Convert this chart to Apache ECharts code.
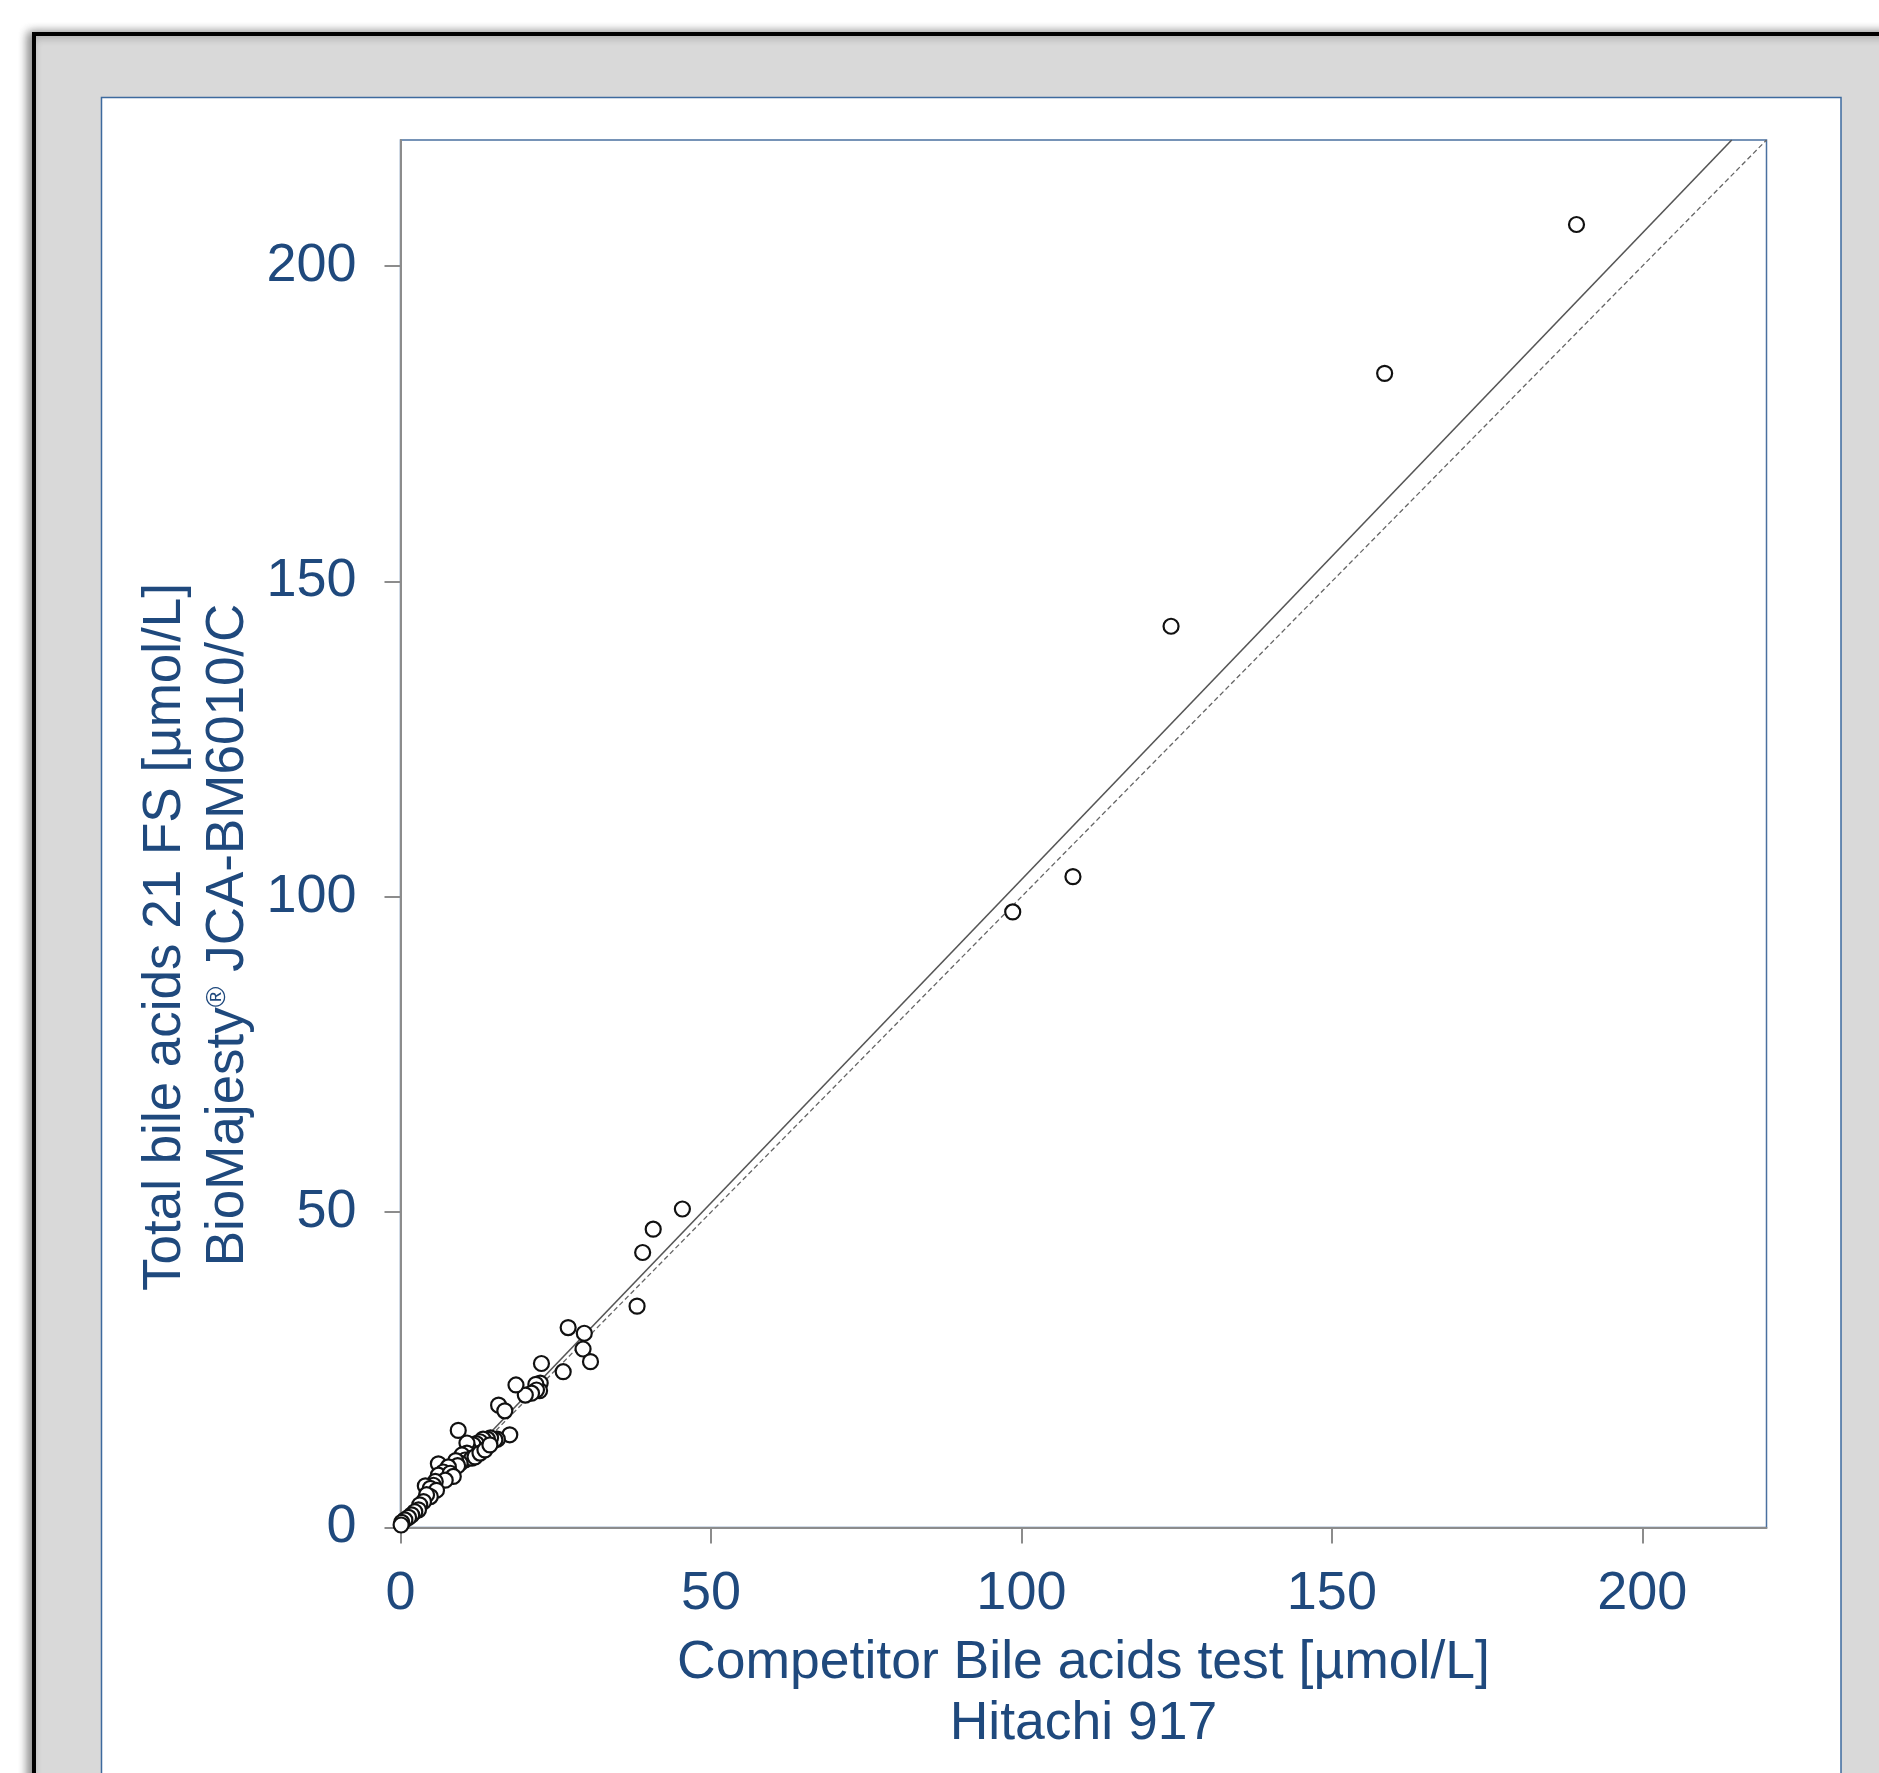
<!DOCTYPE html>
<html>
<head>
<meta charset="utf-8">
<style>
html,body{margin:0;padding:0;background:#fff;}
#chart{width:1879px;height:1773px;}
</style>
<script src="https://cdn.jsdelivr.net/npm/echarts@6/dist/echarts.min.js"></script>
</head>
<body>
<div id="chart"></div>
<script>
// ---- data ----
var xTicks = [0, 50, 100, 150, 200];
var yTicks = [0, 50, 100, 150, 200];
var xTitle = ['Competitor Bile acids test [µmol/L]', 'Hitachi 917'];
var yTitle1 = 'Total bile acids 21 FS [µmol/L]';
var yTitle2a = 'BioMajesty';
var yTitle2b = '®';
var yTitle2c = ' JCA-BM6010/C';

// [competitor (x), BioMajesty (y)]
var samples = [
  [189.4, 206.6], [158.5, 183.0], [124.1, 142.9], [108.3, 103.2], [98.6, 97.6],
  [45.4, 50.5], [40.7, 47.3], [39.0, 43.6], [38.1, 35.1],
  [27.0, 31.7], [29.6, 30.8], [29.4, 28.3], [30.6, 26.3], [26.2, 24.7],
  [22.7, 26.0], [22.5, 22.9], [22.4, 21.7], [21.8, 22.7], [21.9, 21.8],
  [21.1, 21.3], [20.1, 21.0], [18.6, 22.6], [15.8, 19.4], [16.8, 18.5],
  [17.6, 14.7], [15.6, 14.0], [15.2, 13.9], [14.5, 14.2], [14.0, 14.0],
  [13.3, 14.0], [12.8, 13.6], [12.2, 13.3], [11.7, 13.1], [10.9, 12.6],
  [10.7, 13.4], [10.7, 11.8], [10.1, 10.7], [9.3, 15.4], [9.9, 11.5],
  [10.4, 10.7], [11.5, 11.0], [9.6, 10.2], [12.0, 11.2], [12.8, 11.8],
  [13.6, 12.3], [14.4, 13.1], [8.9, 10.6], [9.2, 9.8],
  [6.1, 10.1], [7.7, 9.6], [6.9, 8.8], [6.1, 8.3], [8.0, 8.6], [8.5, 8.1],
  [7.2, 7.5], [5.6, 7.3], [5.3, 6.7], [4.0, 6.6], [4.8, 6.2], [5.8, 5.9],
  [4.8, 4.9], [4.2, 5.2], [3.7, 4.1], [3.1, 3.6], [2.9, 2.8], [2.3, 2.5],
  [1.8, 2.0], [1.3, 1.6], [0.7, 1.2], [0.2, 0.8], [0.1, 0.4]
];
// regression line (endpoints on the fitted line) and line of identity
var regressionLine = [[0, 0.2], [214.4, 220]];
var identityLine = [[0, 0], [220, 220]];

// ---- chart ----
var blue = '#1F497D';
var font = '"Liberation Sans", Arial, sans-serif';
var chart = echarts.init(document.getElementById('chart'), null, {renderer: 'canvas'});

var G = {left: 400.5, top: 140, width: 1366, height: 1387.5};

var option = {
  backgroundColor: '#ffffff',
  animation: false,
  graphic: [
    {type: 'rect', z: -10, shape: {x: 34, y: 34, width: 1900, height: 1800},
     style: {fill: '#d9d9d9', stroke: '#000', lineWidth: 4,
             shadowBlur: 10, shadowColor: 'rgba(0,0,0,0.45)', shadowOffsetX: -4, shadowOffsetY: 0}},
    {type: 'rect', z: -9, shape: {x: 101.5, y: 97.5, width: 1739.5, height: 1800},
     style: {fill: '#ffffff', stroke: '#3d6a9e', lineWidth: 1.5}},
    {type: 'text', z: 10, x: G.left + G.width / 2, y: 1663,
     style: {text: xTitle[0], font: '53.5px ' + font, fill: blue, align: 'center', verticalAlign: 'middle'}},
    {type: 'text', z: 10, x: G.left + G.width / 2, y: 1724,
     style: {text: xTitle[1], font: '53.5px ' + font, fill: blue, align: 'center', verticalAlign: 'middle'}},
    {type: 'text', z: 10, x: 165, y: 937, rotation: Math.PI / 2,
     style: {text: yTitle1, font: '53px ' + font, fill: blue, align: 'center', verticalAlign: 'middle'}},
    {type: 'text', z: 10, x: 228, y: 935, rotation: Math.PI / 2,
     style: {text: '{a|' + yTitle2a + '}{s|' + yTitle2b + '}{a|' + yTitle2c + '}',
             align: 'center', verticalAlign: 'middle',
             rich: {
               a: {fontSize: 53, fontFamily: font, fill: blue, color: blue, lineHeight: 60},
               s: {fontSize: 28, fontFamily: font, fill: blue, color: blue, lineHeight: 60, padding: [0, 0, 22, 0]}
             }}}
  ],
  grid: {left: G.left, top: G.top, width: G.width, height: G.height,
         show: true, backgroundColor: '#ffffff', borderColor: '#4a70a0', borderWidth: 1.5},
  xAxis: {
    type: 'value', min: 0, max: 220, interval: 50,
    splitLine: {show: false},
    axisLine: {show: true, onZero: false, lineStyle: {color: '#8c8c8c', width: 2}},
    axisTick: {show: true, length: 16, customValues: xTicks, lineStyle: {color: '#8c8c8c', width: 2}},
    axisLabel: {customValues: xTicks, margin: 40, fontSize: 54, fontFamily: font, color: blue}
  },
  yAxis: {
    type: 'value', min: 0, max: 220, interval: 50,
    splitLine: {show: false},
    axisLine: {show: true, onZero: false, lineStyle: {color: '#8c8c8c', width: 2}},
    axisTick: {show: true, length: 16, customValues: yTicks, lineStyle: {color: '#8c8c8c', width: 2}},
    axisLabel: {customValues: yTicks, margin: 44, fontSize: 54, fontFamily: font, color: blue}
  },
  series: [
    {type: 'line', data: identityLine, symbol: 'none', silent: true, z: 2,
     lineStyle: {color: '#666', width: 1.3, type: [5, 3]}},
    {type: 'line', data: regressionLine, symbol: 'none', silent: true, z: 2,
     lineStyle: {color: '#555', width: 1.6}},
    {type: 'scatter', data: samples, symbol: 'circle', symbolSize: 15, z: 3,
     itemStyle: {color: '#ffffff', borderColor: '#111', borderWidth: 2.2, opacity: 1}}
  ]
};
chart.setOption(option);
</script>
</body>
</html>
